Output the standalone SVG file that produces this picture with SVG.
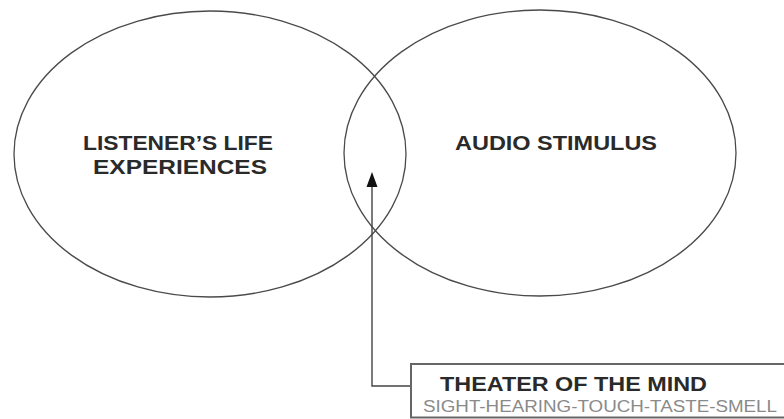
<svg xmlns="http://www.w3.org/2000/svg" width="784" height="419" viewBox="0 0 784 419">
<style>
.circ{fill:none;stroke:#4a4a4a;stroke-width:1.3}
.lbl{font-family:"Liberation Sans",Arial,sans-serif;font-weight:bold;font-size:20px;fill:#2a2a2a}
.sub{font-family:"Liberation Sans",Arial,sans-serif;font-size:16px;fill:#8a8a8a}
.conn{fill:none;stroke:#444;stroke-width:1.4}
</style>
<defs>
<marker id="arr" viewBox="0 0 10 14" refX="5" refY="1" markerWidth="10" markerHeight="14" markerUnits="userSpaceOnUse" orient="auto-start-reverse">
<path d="M5 0 L10 14 L0 14 Z" fill="#111" transform="rotate(0)"/>
</marker>
</defs>
<rect width="784" height="419" fill="#fff"/>
<g id="life">
<ellipse class="circ" cx="210" cy="154" rx="196" ry="143"/>
<text class="lbl" x="83" y="150" textLength="190" lengthAdjust="spacingAndGlyphs">LISTENER’S LIFE</text>
<text class="lbl" x="93" y="174" textLength="174" lengthAdjust="spacingAndGlyphs">EXPERIENCES</text>
</g>
<g id="audio">
<ellipse class="circ" cx="540" cy="153" rx="196" ry="143"/>
<text class="lbl" x="455" y="150" textLength="202" lengthAdjust="spacingAndGlyphs">AUDIO STIMULUS</text>
</g>
<g id="connectors">
<path class="conn" d="M411 386 H372 V186"/>
<path d="M372 172 L377.5 187 L366.5 187 Z" fill="#111"/>
</g>
<g id="theater">
<rect x="411" y="364" width="380" height="53.5" fill="#fff" stroke="#666" stroke-width="2"/>
<text class="lbl" x="440" y="391" textLength="267" lengthAdjust="spacingAndGlyphs">THEATER OF THE MIND</text>
<text class="sub" x="423" y="412" textLength="354" lengthAdjust="spacingAndGlyphs">SIGHT-HEARING-TOUCH-TASTE-SMELL</text>
</g>
</svg>
